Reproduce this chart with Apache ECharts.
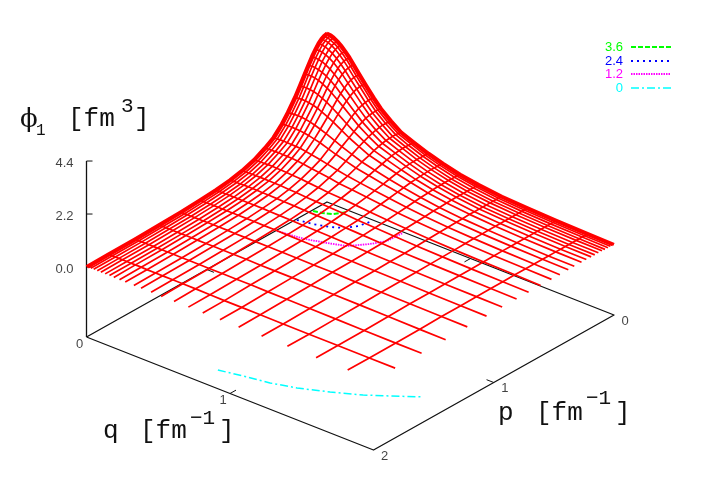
<!DOCTYPE html>
<html>
<head>
<meta charset="utf-8">
<style>html,body{margin:0;background:#fff}#chart{width:701px;height:491px}</style>
<script src="https://cdn.jsdelivr.net/npm/echarts@6/dist/echarts.min.js"></script>
</head>
<body>
<div id="chart"></div>
<script>
// mesh of p and q, same on both axes [fm^-1]; no mesh line is drawn at the last value
const meshValues = [0, .01, .03, .05, .075, .10, .13, .16, .19, .23, .27, .33, .38, .45, .52, .61, .71, .81, .93, 1.06, 1.22, 1.40, 1.60, 1.82, 2.00];

// phi_1 * 100 [fm^3], one row per p, one column per q
const surfaceValues = [
  [411,411,409,404,395,384,366,347,324,293,263,219,186,151,121,100,78,60,43,30,19,13,8,5,3],
  [411,410,408,404,396,384,367,348,325,294,264,220,187,152,122,100,78,60,43,30,20,13,8,5,3],
  [407,407,406,402,394,384,367,348,326,295,266,222,189,154,124,102,79,61,44,31,20,13,8,5,3],
  [401,401,400,397,390,380,364,346,325,295,266,223,190,155,125,102,80,62,44,31,20,13,8,5,3],
  [389,389,389,386,380,371,357,340,320,291,263,221,189,155,125,103,80,62,44,31,20,13,8,5,3],
  [372,373,373,371,366,358,346,330,312,285,258,218,187,153,124,103,80,62,45,31,20,13,8,5,4],
  [349,350,351,349,346,339,328,314,298,273,249,212,183,150,123,102,80,62,45,31,20,13,8,5,4],
  [322,324,325,324,321,316,307,295,281,259,237,203,176,146,120,100,79,61,44,31,20,13,8,5,4],
  [294,295,297,297,295,291,283,273,261,242,223,193,168,140,116,97,77,60,44,31,20,13,8,5,4],
  [256,257,259,259,258,256,250,242,233,218,202,176,155,131,109,92,74,58,43,31,20,13,8,5,4],
  [220,221,222,223,223,221,217,212,204,192,180,159,141,121,101,86,70,56,41,30,20,13,8,5,4],
  [174,175,176,177,178,177,175,171,166,158,149,134,121,105,90,77,63,51,39,28,19,13,8,5,4],
  [140,141,142,143,144,143,142,140,137,131,125,113,103,91,79,69,57,47,36,27,18,12,8,5,4],
  [103,103,104,105,106,105,105,104,103,99,95,88,82,73,65,57,49,41,32,24,17,12,8,5,3],
  [80,80,81,82,82,83,82,82,81,79,76,71,67,61,54,49,42,36,28,22,16,11,7,5,3],
  [56,57,57,58,58,59,59,58,58,57,55,53,50,46,42,39,34,29,24,19,14,10,7,5,3],
  [39,40,40,40,41,41,41,41,41,40,40,38,37,34,32,30,27,23,20,16,12,9,6,4,3],
  [28,29,29,29,29,30,30,30,30,29,29,28,27,26,24,23,21,19,16,13,10,8,6,4,3],
  [20,20,21,21,21,21,21,21,21,21,21,21,20,19,18,17,16,15,13,11,9,7,5,4,3],
  [15,15,15,15,15,15,15,15,15,15,15,15,15,14,14,13,12,11,10,9,7,6,4,3,2],
  [10,10,10,10,10,10,10,10,11,11,11,11,10,10,10,10,9,9,8,8,6,5,4,3,2],
  [7,7,7,7,7,7,7,7,7,7,7,7,7,7,7,7,6,6,6,5,4,3,2,0,-1],
  [4,4,4,4,4,4,4,4,4,4,4,4,4,4,4,4,4,4,3,3,2,1,0,-1,-1],
  [3,3,3,3,3,3,3,3,3,3,2,2,2,2,2,2,1,0,0,0,-1,-1,-1,-1,-1],
  [2,2,2,2,2,2,2,2,1,1,1,1,1,1,0,0,0,-1,-1,-1,-1,-1,-1,-1,-1]
];

// contours on the base, [p, q] pairs
const contour36 = [[.126,.008],[.113,.060],[.084,.112],[.019,.155]];
const contour24 = [[.260,.008],[.240,.103],[.207,.195],[.165,.263],[.103,.302],[.027,.322]];
const contour12 = [[.424,.007],[.414,.089],[.398,.180],[.357,.299],[.315,.403],[.218,.483],[.134,.530],[.009,.537]];
const contour0 = [[1.837,.779],[1.803,.926],[1.771,1.087],[1.722,1.234],[1.644,1.399],[1.557,1.556],[1.473,1.674],[1.372,1.81]];

const zTicks = [0, 2.2, 4.4];
const zTickLabels = ['0.0', '2.2', '4.4'];
const qTicks = [0, 1];
const pTicks = [0, 1, 2];
const zBase = -2.905;
const zTop = 4.4;

// gnuplot style view of the box, gives plot coordinates for the hidden x/y axes
function project(p, q, z) {
  return [
    327 - 120.25 * p + 143.5 * q,
    202 + 67.5 * p + 56.5 * q - 24.09 * (z - zBase)
  ];
}

function lineSeries(points, color, width, type, z) {
  return {
    type: 'line', data: points, symbol: 'none', silent: true, animation: false, z: z,
    lineStyle: {color: color, width: width, type: type, cap: 'butt', join: 'round'}
  };
}

const series = [];
const onBase = (p, q) => project(p, q, zBase);

// base frame and z axis
series.push(lineSeries([onBase(2, 0), onBase(0, 0), onBase(0, 2), onBase(2, 2), onBase(2, 0)], '#111', 1.3, 'solid', 1));
series.push(lineSeries([onBase(2, 0), project(2, 0, zTop)], '#111', 1.3, 'solid', 1));
[[1, 0, 1, .05], [1, 2, 1, 1.95], [0, 1, .05, 1], [2, 1, 1.95, 1]].forEach(t => {
  series.push(lineSeries([onBase(t[0], t[1]), onBase(t[2], t[3])], '#111', 1, 'solid', 1));
});
zTicks.forEach(t => {
  const a = project(2, 0, t);
  series.push(lineSeries([a, [a[0] + 6, a[1]]], '#111', 1, 'solid', 1));
});

// contours
series.push(lineSeries(contour36.map(c => onBase(c[0], c[1])), '#00ff00', 2, [5, 2], 2));
series.push(lineSeries(contour24.map(c => onBase(c[0], c[1])), '#0000ff', 1.8, [2, 4], 2));
series.push(lineSeries(contour12.map(c => onBase(c[0], c[1])), '#ff00ff', 1.8, [1.5, 1], 2));
series.push(lineSeries(contour0.map(c => onBase(c[0], c[1])), '#00ffff', 1.5, [8, 3, 2, 3], 2));

// surface mesh, the two outer lines heavier because the original bundles them into a thick rim
const last = meshValues.length - 1;
for (let i = 0; i < last; i++) {
  const w = i < 2 ? 3 : 1.7;
  series.push(lineSeries(meshValues.map((q, j) => project(meshValues[i], q, surfaceValues[i][j] / 100)), '#ff0000', w, 'solid', 3));
  series.push(lineSeries(meshValues.map((p, j) => project(p, meshValues[i], surfaceValues[j][i] / 100)), '#ff0000', w, 'solid', 3));
}

// tick labels
function labelSeries(points, texts, dx, dy, align) {
  return {
    type: 'scatter', symbolSize: 0, silent: true, animation: false, z: 4,
    data: points.map((pt, i) => ({value: pt, label: {formatter: texts[i]}})),
    label: {show: true, position: 'inside', offset: [dx, dy], color: '#111', fontFamily: 'Liberation Sans', fontSize: 13, align: align, verticalAlign: 'middle'}
  };
}
series.push(labelSeries(zTicks.map(t => project(2, 0, t)), zTickLabels, -13, 2, 'right'));
series.push(labelSeries(qTicks.map(t => onBase(2, t)), qTicks.map(String), -7, 7, 'center'));
series.push(labelSeries(pTicks.map(t => onBase(t, 2)), pTicks.map(String), 11, 6, 'center'));

const mono = 'Liberation Mono';
const sans = 'Liberation Sans';
function txt(x, y, s, size, fam, color, align) {
  return {type: 'text', x: x, y: y, silent: true, style: {text: s, fontSize: size, fontFamily: fam || mono, fill: color || '#111', align: align || 'left', verticalAlign: 'middle'}};
}
function key(y, color, width, type) {
  return {type: 'line', silent: true, shape: {x1: 631, y1: y, x2: 671, y2: y}, style: {stroke: color, lineWidth: width, lineDash: type}};
}
const graphic = [
  txt(20, 120, 'ϕ', 26, 'DejaVu Serif'), txt(36, 131, '1', 16, mono),
  txt(68, 119, '[fm', 26), txt(121, 106, '3', 21), txt(134, 119, ']', 26),
  txt(103, 431, 'q', 26), txt(140, 431, '[fm', 26), txt(190, 418, '−1', 21), txt(219, 431, ']', 26),
  txt(498, 413, 'p', 26), txt(536, 413, '[fm', 26), txt(586, 398, '−1', 21), txt(615, 413, ']', 26),
  txt(623, 47, '3.6', 13, sans, '#00ff00', 'right'), key(47, '#00ff00', 2, [5, 2]),
  txt(623, 61, '2.4', 13, sans, '#0000ff', 'right'), key(61, '#0000ff', 1.8, [2, 4]),
  txt(623, 74, '1.2', 13, sans, '#ff00ff', 'right'), key(74, '#ff00ff', 1.8, [1.5, 1]),
  txt(623, 88, '0', 13, sans, '#00ffff', 'right'), key(88, '#00ffff', 1.5, [8, 3, 2, 3])
];

const chart = echarts.init(document.getElementById('chart'));
chart.setOption({
  animation: false,
  backgroundColor: '#fff',
  grid: {left: 0, right: 0, top: 0, bottom: 0},
  xAxis: {type: 'value', min: 0, max: 701, show: false},
  yAxis: {type: 'value', min: 0, max: 491, inverse: true, show: false},
  series: series,
  graphic: graphic
});
</script>
</body>
</html>
